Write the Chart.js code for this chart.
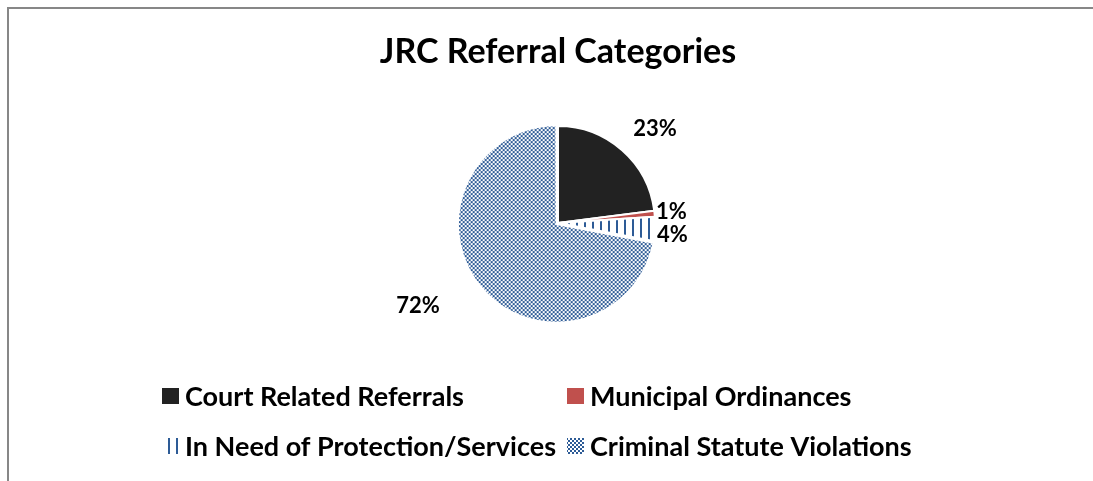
<!DOCTYPE html>
<html>
<head>
<meta charset="utf-8">
<title>JRC Referral Categories</title>
<script src="https://cdn.jsdelivr.net/npm/chart.js@4.4.1/dist/chart.umd.min.js"></script>
<style>
  html, body { margin: 0; padding: 0; background: #fff; overflow: hidden; }
  #wrap { position: relative; width: 1093px; height: 481px; }
</style>
</head>
<body>
<div id="wrap"><canvas id="pie"></canvas></div>
<script>
// data
const categories = [
  'Court Related Referrals',
  'Municipal Ordinances',
  'In Need of Protection/Services',
  'Criminal Statute Violations'
];
const shares = [23, 1, 4, 72];
const percentLabels = ['23%', '1%', '4%', '72%'];
const chartTitle = 'JRC Referral Categories';

const FONT = 'Lato, "Open Sans", sans-serif';
const BLUE = '#2D5B96';

// hatch fills like the office chart
function makePattern(kind, color) {
  const c = document.createElement('canvas');
  const g = c.getContext('2d');
  if (kind === 'stripes') {
    c.width = 8; c.height = 8;
    g.fillStyle = '#fff'; g.fillRect(0, 0, 8, 8);
    g.fillStyle = color; g.fillRect(0, 0, 2, 8);
  } else {
    c.width = 4; c.height = 4;
    g.fillStyle = '#fff'; g.fillRect(0, 0, 4, 4);
    g.fillStyle = color; g.fillRect(0, 0, 2, 2); g.fillRect(2, 2, 2, 2);
  }
  return g.createPattern(c, 'repeat');
}

const sliceColors = ['#222222', '#C0504D', makePattern('stripes', BLUE), makePattern('checker', BLUE)];
const sliceOffsets = [0, 0, 0, 7];

// grey frame of the chart object (cropped at right/bottom)
const framePlugin = {
  id: 'frame',
  beforeDraw(chart) {
    const ctx = chart.ctx;
    ctx.save();
    ctx.fillStyle = '#fff';
    ctx.fillRect(0, 0, chart.width, chart.height);
    ctx.fillStyle = '#878787';
    ctx.fillRect(7, 7, chart.width - 7, 2);
    ctx.fillRect(7, 7, 2, chart.height - 7);
    ctx.restore();
  }
};

// percentage labels outside the slices
const labelPlugin = {
  id: 'sliceLabels',
  afterDatasetsDraw(chart, args, opts) {
    const ctx = chart.ctx;
    const meta = chart.getDatasetMeta(0);
    ctx.save();
    ctx.font = opts.font;
    ctx.fillStyle = '#000';
    ctx.textAlign = 'center';
    ctx.textBaseline = 'middle';
    meta.data.forEach((arc, i) => {
      const p = arc.getProps(['x', 'y', 'startAngle', 'endAngle', 'outerRadius'], true);
      const mid = (p.startAngle + p.endAngle) / 2;
      const off = sliceOffsets[i];
      const cx = p.x + Math.cos(mid) * off;
      const cy = p.y + Math.sin(mid) * off;
      const a = mid + opts.angleShift[i] * Math.PI / 180;
      const d = p.outerRadius + opts.gap[i];
      ctx.fillText(percentLabels[i], cx + Math.cos(a) * d, cy + Math.sin(a) * d);
    });
    ctx.restore();
  }
};

// two-column legend grid below the pie
const legendPlugin = {
  id: 'gridLegend',
  afterDraw(chart, args, opts) {
    const ctx = chart.ctx;
    const bg = chart.data.datasets[0].backgroundColor;
    ctx.save();
    ctx.font = opts.font;
    ctx.textBaseline = 'middle';
    ctx.textAlign = 'left';
    chart.data.labels.forEach((name, i) => {
      const bx = opts.columns[i % 2];
      const cy = opts.rows[Math.floor(i / 2)];
      ctx.fillStyle = bg[i];
      ctx.fillRect(bx, cy - 8, 17, 16);
      ctx.fillStyle = '#000';
      ctx.fillText(name, bx + 23, cy + 1);
    });
    ctx.restore();
  }
};

new Chart(document.getElementById('pie'), {
  type: 'pie',
  data: {
    labels: categories,
    datasets: [{
      data: shares,
      backgroundColor: sliceColors,
      borderColor: '#ffffff',
      borderWidth: 2,
      offset: sliceOffsets
    }]
  },
  plugins: [framePlugin, labelPlugin, legendPlugin],
  options: {
    responsive: true,
    maintainAspectRatio: false,
    animation: false,
    events: [],
    radius: 97,
    layout: {
      padding: { left: 23, right: 0, top: 0, bottom: 118 }
    },
    plugins: {
      legend: { display: false },
      tooltip: { enabled: false },
      title: {
        display: true,
        text: chartTitle,
        color: '#000',
        font: { family: FONT, size: 34, weight: 'bold' },
        padding: { top: 32, bottom: 10 }
      },
      sliceLabels: {
        font: 'bold 22px ' + FONT,
        gap: [38, 17, 18, 59],
        angleShift: [4.5, 0, 2.4, 9.3]
      },
      gridLegend: {
        font: 'bold 27px ' + FONT,
        columns: [162, 567],
        rows: [396, 446]
      }
    }
  }
});
</script>
</body>
</html>
